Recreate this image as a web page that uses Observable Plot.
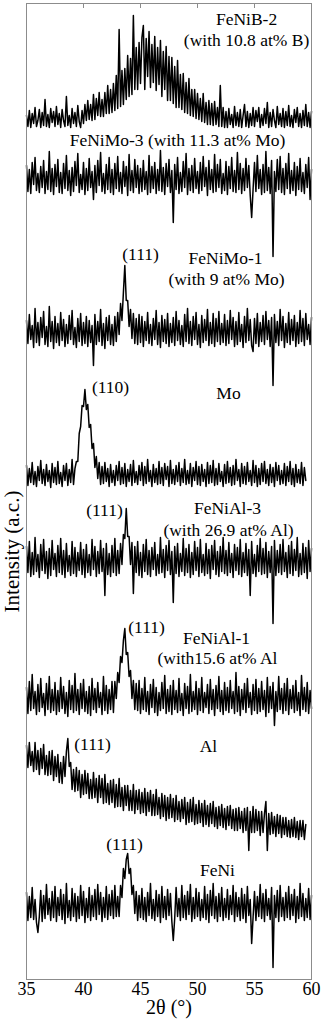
<!DOCTYPE html>
<html><head><meta charset="utf-8">
<script src="https://cdn.jsdelivr.net/npm/d3@7"></script>
<script src="https://cdn.jsdelivr.net/npm/@observablehq/plot@0.6"></script>
<style>
html,body{margin:0;padding:0;background:#fff;}
#chart svg{display:block;}
</style></head><body><div id="chart"></div>
<script>
// 2θ sampling grid of the digitised patterns
const thetaStart = 35, thetaStep = 0.125;
const sampleNames = ["FeNiB-2","FeNiMo-3","FeNiMo-1","Mo","FeNiAl-3","FeNiAl-1","Al","FeNi"];
// vertical stacking offset of each pattern (a.u.)
const offsets = [862, 802, 649, 505, 419, 281, 149, 74];

const feNiB2 = [
2,-9,7,-10,4,-6,10,-9,-3,8,-10,5,-8,18,-9,3,-10,9,-5,6,
-9,11,-7,4,-10,8,-3,-9,21,-8,2,-10,9,-6,5,-9,12,-4,-10,7,
-6,13,-3,17,-2,13,-3,23,-2,19,2,25,1,18,1,25,4,32,4,28,
5,34,7,42,9,88,11,47,13,49,18,62,21,59,23,102,28,70,28,75,
34,80,92,28,79,41,86,30,73,35,81,27,70,33,77,21,66,28,71,17,
61,17,60,14,51,10,57,10,43,8,44,5,35,4,39,2,28,1,28,-1,
24,-2,19,-4,24,-5,15,-7,17,-7,14,-8,16,-7,10,-9,32,-9,10,-10,
6,-10,9,-7,3,-10,11,-8,5,-9,8,-10,2,13,-9,6,-10,4,-8,10,
-9,7,-4,10,-10,3,-8,9,-6,15,-10,5,-9,8,-3,-10,11,-7,4,-9,
9,-10,6,-8,12,-9,2,-10,8,-5,10,-9,4,-10,7,-8,13,-9,5,-10,
6];
const feNiMo3 = [
12,-14,8,-16,15,-7,20,-13,4,-15,11,-10,17,-16,6,-12,26,-14,9,-17,
13,-9,18,-15,5,-16,14,-11,22,-13,7,-18,10,-14,16,-8,24,-15,3,-12,
15,-17,9,-13,19,-10,6,-22,12,-15,17,-8,25,-14,4,-16,13,-12,20,-15,
8,-17,14,-11,21,-14,5,-16,16,-9,11,-18,23,-13,7,-15,18,-10,12,-16,
9,-14,17,-12,6,-17,22,-15,11,-11,15,-16,8,-13,27,-14,10,-17,14,-9,
18,-15,7,-45,13,-12,20,-16,5,-14,16,-10,24,-17,9,-13,12,-15,19,-11,
6,-16,15,-13,21,-9,10,-18,17,-12,8,-15,23,-14,13,-10,18,-16,4,-13,
16,-17,11,-11,20,-14,7,-15,25,-12,14,-16,9,-13,19,-10,12,-18,-40,-12,
15,-14,22,-11,8,-17,13,-15,26,-13,10,-16,17,-79,6,-14,18,-12,21,-15,
9,-17,14,-11,24,-16,7,-13,15,-18,11,-12,19,-14,5,-16,13,-10,20,-22,
8];
const feNiMo1 = [
10,-13,16,-9,5,-17,22,-12,8,-15,13,-7,19,-14,4,-16,24,-11,9,-18,
14,-12,7,-15,18,-10,11,-16,6,-13,15,-9,20,-14,3,-17,12,-11,17,-15,
8,-13,14,-16,10,-12,5,-35,16,-14,9,-11,21,-15,7,-18,13,-10,15,-14,
6,-15,14,-11,18,-4,27,10,38,65,30,30,4,21,-8,17,-13,12,-14,16,
-12,14,-16,9,-10,18,-13,6,-15,12,-9,20,-14,8,-17,15,-11,11,-13,17,
-16,7,-12,13,-15,19,-10,10,-14,5,-16,16,-11,22,-13,9,-15,14,-9,18,
-14,6,-17,15,-12,11,-10,21,-15,8,-13,17,-16,12,-11,19,-14,7,-12,16,
-15,10,-13,20,-9,13,-16,9,-14,18,-11,6,-17,14,-12,22,-10,11,-15,-21,
12,-13,17,-16,8,-11,15,-14,19,-9,10,-16,13,-55,16,-12,9,-15,21,-10,
14,-17,7,-12,18,-14,11,-10,15,-16,8,-13,20,-11,12,-15,17,-9,6,-14,
13];
const mo = [
9,-11,6,-8,12,-10,3,-12,8,-6,14,-9,5,-11,10,-7,4,-13,11,-8,
7,-10,13,-9,2,-12,9,-6,11,-11,5,-8,15,-10,6,13,13,41,48,69,
68,85,65,70,47,50,26,31,7,18,-4,12,-10,8,-9,12,-7,6,-12,10,
-8,4,-11,9,-6,13,-10,7,-9,11,-12,5,-7,10,-11,14,-8,3,-10,9,
-6,12,-11,8,-9,15,-7,4,-12,10,-8,6,-10,13,-9,7,-11,11,-5,8,
-12,14,-9,5,-10,9,-7,12,-11,6,-8,15,-10,4,-9,11,-12,7,-6,13,
-10,8,-11,10,-7,5,-12,12,-9,9,-8,14,-11,6,-10,11,-7,3,-12,10,
-9,13,-8,7,-11,9,-10,15,-6,5,-12,11,-9,8,-10,12,-7,4,-11,14,
-8,9,-12,6,-10,11,-7,13,-9,5,-11,10,-8,7,-12,12,-6,9,-10,4,
-9,11,-11,8,-7,13,-10,6,-12,10,-8,5,-9,12,-11,7,-6];
const feNiAl3 = [
14,-12,19,-16,8,-14,23,-11,6,-17,16,-10,21,-13,9,-18,12,-15,20,-9,
7,-16,15,-12,22,-14,10,-17,17,-11,5,-15,19,-13,13,-16,8,-10,18,-14,
11,-17,16,-12,6,-15,21,-9,14,-16,9,-13,20,-11,12,-35,17,-14,7,-16,
15,-12,22,-15,10,-13,17,-4,26,22,52,24,24,-4,18,-33,14,-12,19,-15,
8,-17,16,-11,21,-14,10,-16,13,-9,18,-15,6,-13,23,-12,11,-17,15,-10,
20,-14,9,-42,14,-13,17,-16,7,-11,22,-15,12,-12,16,-17,8,-14,19,-10,
13,-16,21,-12,6,-15,17,-13,11,-18,15,-9,20,-14,9,-16,14,-11,23,-13,
10,-15,18,-12,7,-17,16,-10,13,-14,21,-16,8,-12,17,-15,11,-35,19,-13,
6,-16,15,-11,22,-14,12,-13,18,-17,9,-12,14,-63,20,-15,10,-12,16,-14,
21,-11,8,-17,15,-13,19,-15,11,-10,23,-16,7,-14,17,-12,13,-18,20,-11,
12];
const feNiAl1 = [
11,-15,17,-12,24,-10,7,-16,14,-13,20,-9,5,-17,15,-11,22,-14,9,-12,
16,-16,8,-13,21,-10,12,-15,6,-18,18,-11,13,-14,25,-12,9,-16,15,-10,
19,-13,7,-15,12,-17,20,-11,10,-14,16,-9,6,-16,22,-12,13,-15,9,-11,
17,-14,17,0,26,16,42,36,58,70,44,46,22,28,0,18,-11,15,-12,18,
-15,10,-11,21,-13,7,-16,14,-9,19,-14,11,-17,6,-12,16,-10,23,-15,9,
-13,13,-16,18,-11,8,-14,20,-12,5,-17,15,-10,12,-15,24,-13,7,-11,17,
-16,10,-12,21,-14,6,-9,14,-15,19,-11,9,-17,13,-10,22,-13,8,-16,16,
-12,11,-14,18,-10,7,-15,26,-13,12,-17,9,-11,15,-14,20,-9,6,-16,14,
-12,19,-15,10,-13,17,-11,8,-18,21,-14,12,-10,16,-27,7,-13,22,-11,10,
-15,15,-12,20,-16,9,-10,13,-14,18,-12,6,-17,23,-11,11,-13,16,-15,8,
-10];
const al = [
85,63,88,65,79,59,88,61,80,56,82,62,86,56,75,55,79,56,80,50,
74,54,76,48,68,47,74,54,79,92,64,68,41,61,39,63,40,60,33,56,
36,60,37,57,32,51,32,58,33,52,28,55,33,52,27,56,28,47,26,50,
28,51,23,46,24,52,24,43,20,45,25,45,20,40,20,46,17,40,21,41,
17,38,18,42,15,38,19,40,15,36,15,41,16,33,12,37,14,35,10,33,
12,36,13,32,9,35,11,29,9,31,12,33,6,28,8,31,9,33,6,26,
7,30,8,27,4,30,6,25,4,27,7,29,4,23,2,24,5,26,3,22,
1,24,5,25,2,21,0,22,0,23,2,19,-2,22,0,23,-20,19,-2,24,
-2,21,0,19,-5,19,-2,17,29,-20,17,-4,18,-3,14,-6,16,-3,15,-7,
13,-4,13,-6,10,-7,11,-6,13,-7,9,-9,10,-6,10,-9,6];
const feNi = [
13,-15,9,-12,18,-14,6,-17,-27,-11,15,-16,10,-13,21,-9,7,-15,14,-12,
19,-16,8,-10,16,-14,11,-18,22,-12,5,-15,17,-11,12,-16,9,-13,20,-10,
14,-17,7,-12,18,-15,10,-11,16,-14,21,-9,13,-16,8,-12,19,-14,11,-10,
15,-13,20,-11,9,-11,20,8,37,27,46,52,32,37,11,20,-8,14,-15,10,
-12,17,-14,8,-16,13,-10,22,-13,6,-15,15,-11,11,-17,19,-12,9,-14,16,
-10,12,-16,-35,-13,18,-11,7,-15,20,-12,10,-14,14,-9,21,-16,8,-13,17,
-11,13,-15,6,-12,19,-14,11,-17,15,-10,22,-13,9,-16,12,-11,18,-15,7,
-12,16,-14,10,-9,20,-16,13,-11,8,-15,17,-13,11,-17,19,-10,6,-38,-12,
14,-15,9,-11,21,-13,12,-16,16,-10,7,-14,18,-62,10,-12,15,-16,20,-11,
8,-15,13,-12,19,-14,11,-10,16,-17,9,-13,22,-11,12,-15,7,-12,17,-14,
10];

const patterns = [feNiB2, feNiMo3, feNiMo1, mo, feNiAl3, feNiAl1, al, feNi];

// annotations (text, 2θ, intensity)
const annotationText = ["FeNiB-2","(with 10.8 at% B)","FeNiMo-3 (with 11.3 at% Mo)","(111)","FeNiMo-1","(with 9 at% Mo)","(110)","Mo","(111)","FeNiAl-3","(with 26.9 at% Al)","(111)","FeNiAl-1","(with15.6 at% Al","(111)","Al","(111)","FeNi"];
const annotationTheta = [54.3,54.3,48.25,45.0,52.46,52.54,42.37,52.72,41.84,52.63,52.72,45.53,51.67,51.75,40.79,50.96,43.6,51.75];
const annotationIntensity = [960,939,839,725,721,700,592,586,469,471,449,352,341,321,235,233,135,109];

const xTicks = [35,40,45,50,55,60];
const topTicks = [40,45,50,55];

const rows = patterns.flatMap((vals, s) => vals.map((v, i) => ({
  sample: sampleNames[s], theta: thetaStart + i * thetaStep, intensity: offsets[s] + v
})));
const annotations = annotationText.map((t, i) => ({text: t, theta: annotationTheta[i], intensity: annotationIntensity[i]}));

const serif = "Liberation Serif, Times New Roman, serif";
const chart = Plot.plot({
  width: 322, height: 1024,
  marginTop: 3, marginBottom: 45, marginLeft: 26, marginRight: 11,
  style: {fontFamily: serif, background: "#fff", color: "#000"},
  x: {domain: [35, 60]},
  y: {domain: [0, 976], axis: null},
  marks: [
    Plot.line(rows, {x: "theta", y: "intensity", z: "sample", stroke: "#000", strokeWidth: 1.5}),
    Plot.frame({stroke: "#8c8c8c"}),
    Plot.ruleX(topTicks, {stroke: "#8c8c8c", insetBottom: 971}),
    Plot.axisX({ticks: xTicks, tickSize: 0, tickPadding: 3, fontSize: 18, fontFamily: serif, label: null}),
    Plot.text(["2θ (°)"], {text: d => d, frameAnchor: "bottom", textAnchor: "middle", dy: 34, fontSize: 20, fontFamily: serif}),
    Plot.text(["Intensity (a.c.)"], {text: d => d, frameAnchor: "left", textAnchor: "middle", rotate: -90, dx: -14, dy: 60, fontSize: 21, fontFamily: serif}),
    Plot.text(annotations, {x: "theta", y: "intensity", text: "text", fontSize: 17.5, fontFamily: serif})
  ]
});
document.getElementById("chart").appendChild(chart);
</script>
</body></html>
